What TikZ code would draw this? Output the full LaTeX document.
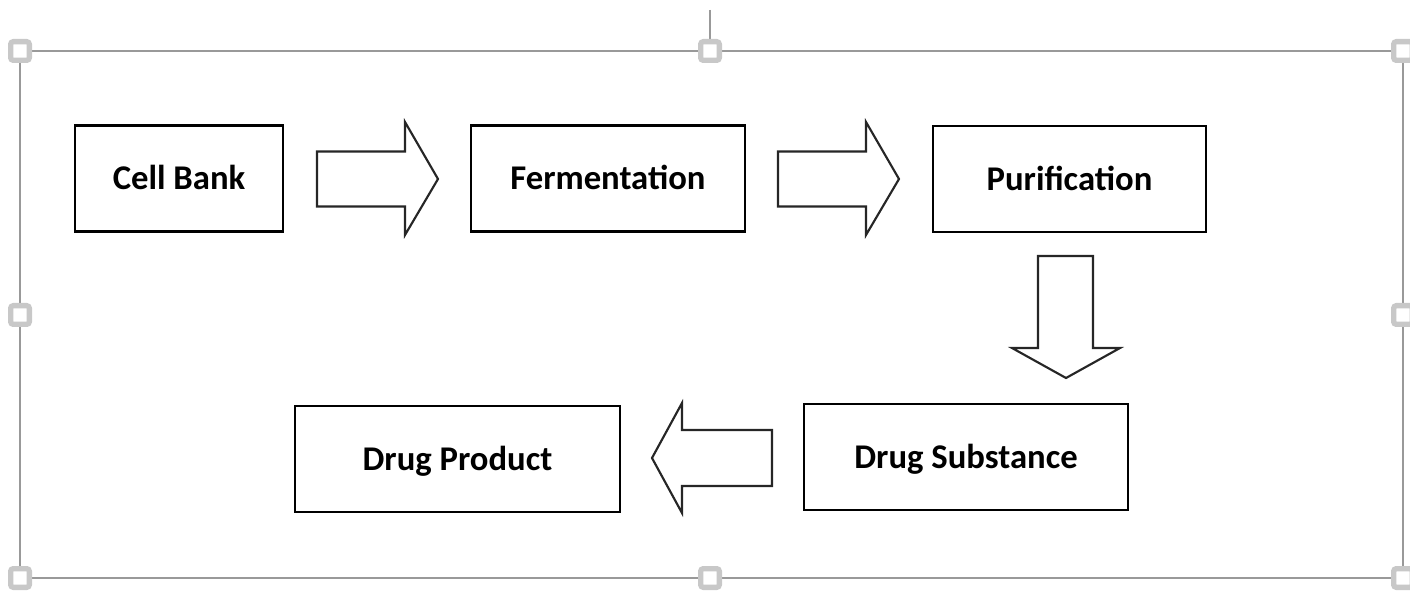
\documentclass[tikz,border=0pt]{standalone}
\usepackage{fontspec}
\setmainfont{Carlito}
\definecolor{framegray}{HTML}{999999}
\definecolor{handlegray}{HTML}{C8C8C8}
\begin{document}
\begin{tikzpicture}[x=0.75pt,y=-0.75pt,
  stepbox/.style={draw=black,line width=2pt,fill=white,inner sep=0pt,text depth=0pt,text height=17pt,font=\bfseries\fontsize{26}{30}\selectfont},
  blockarrow/.style={draw=black!85,line width=1.6pt,fill=white,line join=miter},
  frameline/.style={draw=framegray,line width=2.2pt},
  handle/.style={draw=handlegray,line width=4pt,fill=white,rounded corners=2pt,minimum width=14pt,minimum height=14pt,inner sep=0pt}]
\useasboundingbox (0,0) rectangle (1410,591);
% selection frame
\coordinate (tl) at (20,51);
\coordinate (tm) at (710,51);
\coordinate (tr) at (1403,51);
\coordinate (ml) at (20,315);
\coordinate (mr) at (1403,315);
\coordinate (bl) at (20,578);
\coordinate (bm) at (710,578);
\coordinate (br) at (1403,578);
\coordinate (rot) at (710,10);
\draw[frameline] (tl) -- (tr) -- (br) -- (bl) -- cycle;
\draw[frameline] (rot) -- (tm);
\foreach \h in {tl,tm,tr,ml,mr,bl,bm,br}
  \node[handle] (h-\h) at (\h) {};
% boxes
\node[stepbox,minimum width=208*0.75pt,minimum height=106*0.75pt] (cell) at (179,178.5) {Cell Bank};
\node[stepbox,minimum width=274*0.75pt,minimum height=106*0.75pt] (ferm) at (608,178.5) {Fermentation};
\node[stepbox,minimum width=273*0.75pt,minimum height=106*0.75pt] (puri) at (1069.5,179) {Purification};
\node[stepbox,minimum width=324*0.75pt,minimum height=106*0.75pt] (subs) at (966,457) {Drug Substance};
\node[stepbox,minimum width=325*0.75pt,minimum height=106*0.75pt] (prod) at (457.5,459) {Drug Product};
% block arrows
\draw[blockarrow] (317,151.5) -- (405,151.5) -- (405,122) -- (438,179) -- (405,235) -- (405,206.5) -- (317,206.5) -- cycle;
\draw[blockarrow] (778,151.5) -- (866,151.5) -- (866,122) -- (899,179) -- (866,235) -- (866,206.5) -- (778,206.5) -- cycle;
\draw[blockarrow] (1038,256) -- (1093,256) -- (1093,348) -- (1120,348) -- (1066,378) -- (1012,348) -- (1038,348) -- cycle;
\draw[blockarrow] (772,430) -- (682,430) -- (682,403) -- (652,458) -- (682,513) -- (682,486) -- (772,486) -- cycle;
\end{tikzpicture}
\end{document}
